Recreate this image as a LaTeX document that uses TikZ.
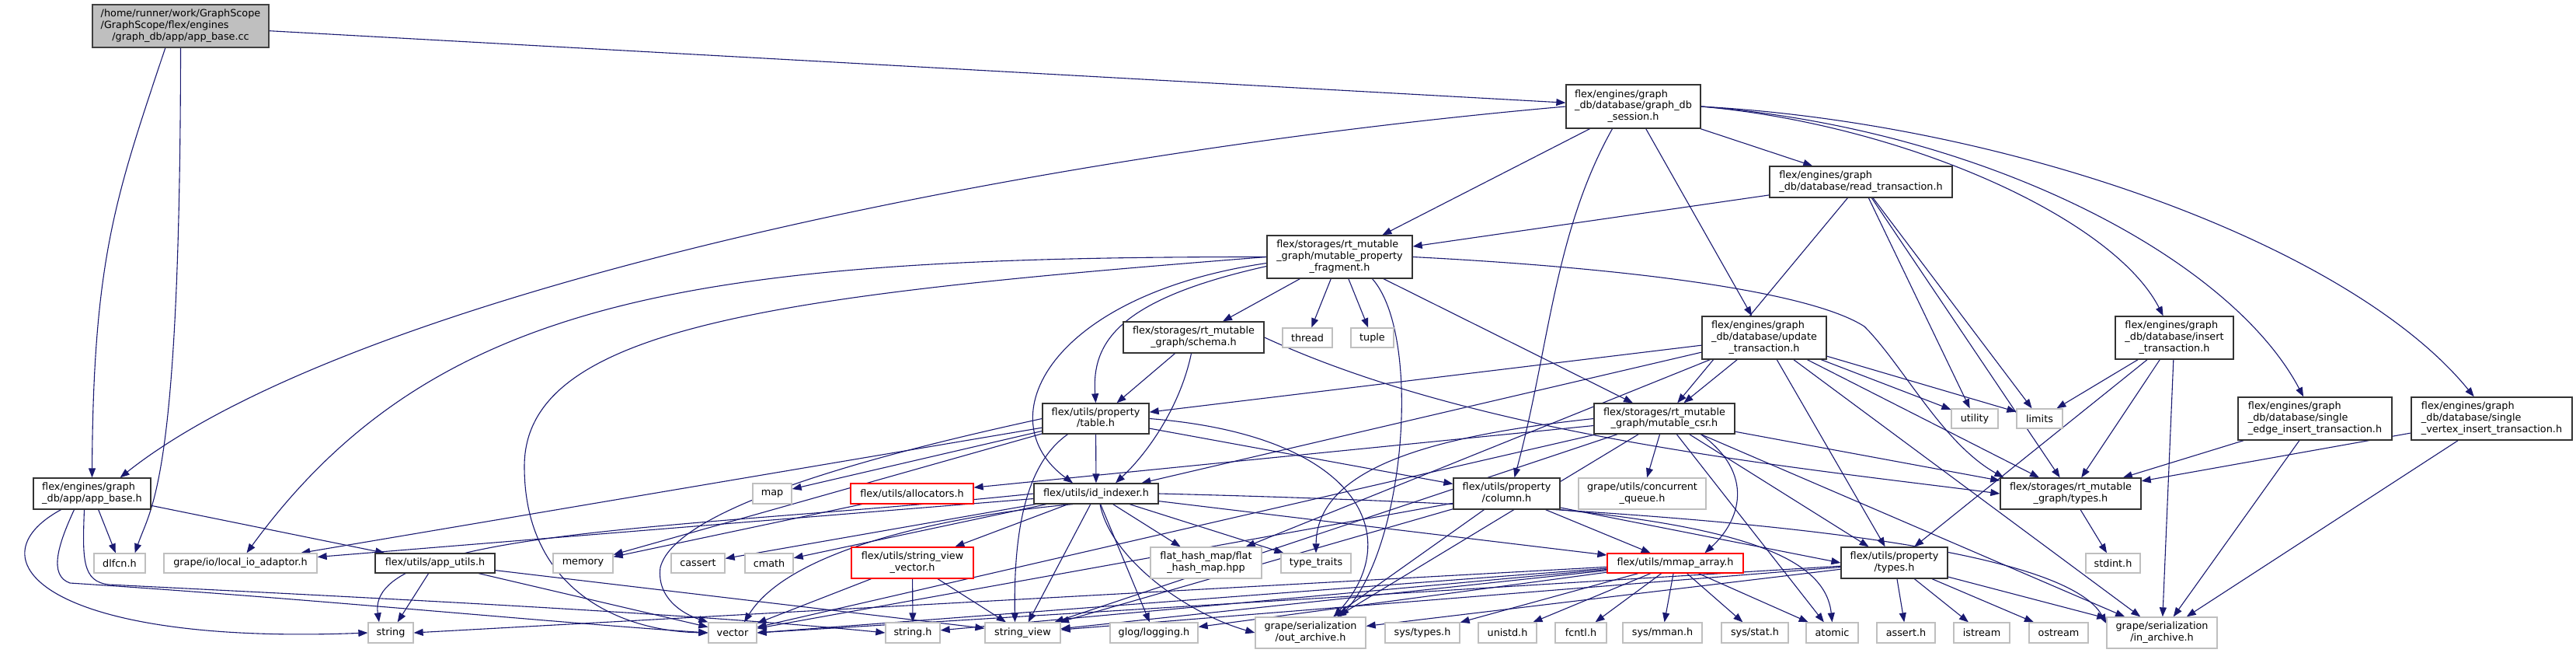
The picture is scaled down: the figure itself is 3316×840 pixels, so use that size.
\documentclass[tikz,border=0pt]{standalone}
\usepackage{fontspec}
\setmainfont{DejaVu Sans}
\usetikzlibrary{arrows.meta}
\definecolor{edgeblue}{HTML}{191970}
\definecolor{sysgray}{HTML}{BFBFBF}
\newcommand{\lline}[1]{\multicolumn{1}{@{}l@{}}{#1}}
\newcommand{\fname}[1]{\begin{tabular}{@{}c@{}}#1\end{tabular}}
\pgfdeclarelayer{edges}
\pgfsetlayers{edges,main}
\tikzset{
  hdr/.style={draw=black!80, fill=white, line width=1.3pt, inner sep=0pt,
    font=\fontsize{12.8}{14.7}\selectfont},
  inc/.style={hdr},
  sysinc/.style={hdr, draw=sysgray},
  cut/.style={hdr, draw=red},
  src/.style={hdr, fill=sysgray, draw=black!75},
  wh/.style 2 args={minimum width=#1pt, minimum height=#2pt},
  dep/.style={draw=edgeblue, line width=1.1pt, -{Triangle[length=12pt,width=9pt]}},
}

\begin{document}
\begin{tikzpicture}[x=1pt,y=-1pt]
  \useasboundingbox (0,0) rectangle (3316,840);
  % rows from the top
  \node[src, wh={227}{55}] (appcc) at (232.5,33.5)
    {\fname{\lline{/home/runner/work/GraphScope}\\\lline{/GraphScope/flex/engines}\\/graph\_db/app/app\_base.cc}};
  \node[inc, wh={173}{56}] (session) at (2102.5,137)
    {\fname{\lline{flex/engines/graph}\\\lline{\_db/database/graph\_db}\\\_session.h}};
  \node[inc, wh={235}{40}] (rtx) at (2395.5,234)
    {\fname{\lline{flex/engines/graph}\\\_db/database/read\_transaction.h}};
  \node[inc, wh={187}{55}] (mpf) at (1724.5,330.5)
    {\fname{\lline{flex/storages/rt\_mutable}\\\lline{\_graph/mutable\_property}\\\_fragment.h}};
  \node[inc, wh={160}{55}] (utx) at (2271,434.5)
    {\fname{\lline{flex/engines/graph}\\\lline{\_db/database/update}\\\_transaction.h}};
  \node[inc, wh={152}{55}] (itx) at (2799,434.5)
    {\fname{\lline{flex/engines/graph}\\\lline{\_db/database/insert}\\\_transaction.h}};
  \node[inc, wh={181}{40}] (schema) at (1536.5,434)
    {\fname{\lline{flex/storages/rt\_mutable}\\\_graph/schema.h}};
  \node[sysinc, wh={64}{25}] (thread) at (1683,434.5) {thread};
  \node[sysinc, wh={55}{25}] (tuple) at (1766.5,434.5) {tuple};
  \node[inc, wh={198}{55}] (setx) at (2980,538.5)
    {\fname{\lline{flex/engines/graph}\\\lline{\_db/database/single}\\\_edge\_insert\_transaction.h}};
  \node[inc, wh={207}{55}] (svtx) at (3207.5,538.5)
    {\fname{\lline{flex/engines/graph}\\\lline{\_db/database/single}\\\_vertex\_insert\_transaction.h}};
  \node[inc, wh={181}{39}] (csr) at (2142.5,538.5)
    {\fname{\lline{flex/storages/rt\_mutable}\\\_graph/mutable\_csr.h}};
  \node[inc, wh={137}{39}] (table) at (1410.5,538.5)
    {\fname{\lline{flex/utils/property}\\/table.h}};
  \node[sysinc, wh={60}{25}] (utility) at (2542,538.5) {utility};
  \node[sysinc, wh={59}{25}] (limits) at (2625.5,538.5) {limits};
  \node[inc, wh={151}{40}] (appbase) at (118.5,635)
    {\fname{\lline{flex/engines/graph}\\\_db/app/app\_base.h}};
  \node[inc, wh={137}{40}] (column) at (1939.5,635)
    {\fname{\lline{flex/utils/property}\\/column.h}};
  \node[sysinc, wh={164}{40}] (concq) at (2114,635)
    {\fname{\lline{grape/utils/concurrent}\\\_queue.h}};
  \node[inc, wh={181}{40}] (rtypes) at (2665.5,635)
    {\fname{\lline{flex/storages/rt\_mutable}\\\_graph/types.h}};
  \node[sysinc, wh={50}{26}] (map) at (994,635) {map};
  \node[cut, wh={158}{26}] (alloc) at (1174,635) {flex/utils/allocators.h};
  \node[inc, wh={160}{26}] (idx) at (1411,635) {flex/utils/id\_indexer.h};
  \node[sysinc, wh={66}{25}] (dlfcn) at (154,724.5) {dlfcn.h};
  \node[sysinc, wh={197}{25}] (lio) at (309.5,724.5) {grape/io/local\_io\_adaptor.h};
  \node[inc, wh={154}{25}] (apputils) at (560,724.5) {flex/utils/app\_utils.h};
  \node[sysinc, wh={77}{25}] (memory) at (750.5,724.5) {memory};
  \node[sysinc, wh={69}{25}] (cassert) at (898.5,724.5) {cassert};
  \node[sysinc, wh={62}{25}] (cmath) at (990,724.5) {cmath};
  \node[cut, wh={157}{40}] (svv) at (1174.5,724)
    {\fname{\lline{flex/utils/string\_view}\\\_vector.h}};
  \node[sysinc, wh={143}{40}] (fhm) at (1552.5,724)
    {\fname{\lline{flat\_hash\_map/flat}\\\_hash\_map.hpp}};
  \node[sysinc, wh={90}{25}] (typetraits) at (1694,724.5) {type\_traits};
  \node[cut, wh={175}{25}] (mmap) at (2156.5,724.5) {flex/utils/mmap\_array.h};
  \node[inc, wh={137}{40}] (ptypes) at (2438.5,724)
    {\fname{\lline{flex/utils/property}\\/types.h}};
  \node[sysinc, wh={70}{25}] (stdint) at (2720,724.5) {stdint.h};
  \node[sysinc, wh={58}{26}] (string) at (503,814) {string};
  \node[sysinc, wh={62}{26}] (vector) at (943,814) {vector};
  \node[sysinc, wh={70}{26}] (stringh) at (1175,814) {string.h};
  \node[sysinc, wh={97}{26}] (strview) at (1316.5,814) {string\_view};
  \node[sysinc, wh={113}{26}] (glog) at (1485.5,814) {glog/logging.h};
  \node[sysinc, wh={142}{40}] (outarch) at (1687,814)
    {\fname{\lline{grape/serialization}\\/out\_archive.h}};
  \node[sysinc, wh={96}{26}] (systypes) at (1831,814) {sys/types.h};
  \node[sysinc, wh={75}{26}] (unistd) at (1940.5,814) {unistd.h};
  \node[sysinc, wh={66}{26}] (fcntl) at (2035,814) {fcntl.h};
  \node[sysinc, wh={102}{26}] (sysmman) at (2140,814) {sys/mman.h};
  \node[sysinc, wh={86}{26}] (sysstat) at (2259,814) {sys/stat.h};
  \node[sysinc, wh={67}{26}] (atomic) at (2358.5,814) {atomic};
  \node[sysinc, wh={75}{26}] (asserth) at (2453.5,814) {assert.h};
  \node[sysinc, wh={72}{26}] (istream) at (2551,814) {istream};
  \node[sysinc, wh={76}{26}] (ostream) at (2650,814) {ostream};
  \node[sysinc, wh={142}{40}] (inarch) at (2783,814)
    {\fname{\lline{grape/serialization}\\/in\_archive.h}};

  \begin{pgfonlayer}{edges}
  % app_base.cc
  \draw[dep] (appcc) -- (session);
  \draw[dep] (appcc.235) .. controls (150,250) and (120,330) .. (appbase.north);
  \draw[dep] (appcc.south) .. controls (232,620) and (195,650) .. ([xshift=-14pt]dlfcn.north east);
  % graph_db_session.h
  \draw[dep] (session.west) .. controls (1300,200) and (450,380) .. ([xshift=-40pt]appbase.north east);
  \draw[dep] ([xshift=-27pt]session.south) .. controls (2000,300) and (1994,450) .. ([xshift=10pt]column.north);
  \draw[dep] (session.east) .. controls (2450,160) and (2720,280) .. (itx);
  \draw[dep] (session.east) .. controls (2550,165) and (2870,330) .. (setx);
  \draw[dep] (session.east) .. controls (2600,160) and (3030,320) .. (svtx);
  \foreach \dst in {mpf,utx,rtx} \draw[dep] (session) -- (\dst);
  % read_transaction.h
  \foreach \dst in {mpf,csr,utility,limits,rtypes} \draw[dep] (rtx) -- (\dst);
  % mutable_property_fragment.h
  \foreach \dst in {schema,csr,thread,tuple} \draw[dep] (mpf) -- (\dst);
  \draw[dep] ([yshift=-12pt]mpf.west) .. controls (1440,385) and (1405,440) .. (table.north);
  \draw[dep] ([yshift=-8pt]mpf.west) .. controls (1350,380) and (1270,540) .. ([xshift=-30pt]idx.north);
  \draw[dep] (mpf.west) .. controls (900,330) and (560,380) .. ([xshift=8pt]lio.north);
  \draw[dep] (mpf.west) .. controls (1000,380) and (675,420) .. (675,600)
    .. controls (675,760) and (800,812) .. (vector.west);
  \draw[dep] (mpf.east) .. controls (2100,345) and (2330,375) .. (2400,420)
    .. controls (2450,470) and (2500,570) .. ([xshift=5pt]rtypes.north west);
  \draw[dep] ([xshift=42pt]mpf.south) .. controls (1830,430) and (1810,700) .. ([xshift=38pt]outarch.north);
  % update / insert transactions
  \foreach \dst in {table,idx,fhm,csr,ptypes,rtypes,inarch,utility,limits} \draw[dep] (utx) -- (\dst);
  \foreach \dst in {limits,rtypes,ptypes,inarch} \draw[dep] (itx) -- (\dst);
  \foreach \s in {setx,svtx} \foreach \dst in {rtypes,inarch} \draw[dep] (\s) -- (\dst);
  % schema.h, table.h
  \draw[dep] ([xshift=-24pt]schema.south) -- ([xshift=27pt]table.north);
  \draw[dep] ([xshift=-3pt]schema.south) .. controls (1520,520) and (1480,580) .. ([xshift=25pt]idx.north);
  \draw[dep] (schema.east) .. controls (1900,560) and (2300,600) .. (rtypes.west);
  \foreach \dst in {map,memory,lio,idx,column} \draw[dep] (table) -- (\dst);
  \draw[dep] (table.west) .. controls (1150,580) and (870,650) .. (850,730)
    .. controls (845,770) and (880,790) .. (vector.north west);
  \draw[dep] ([xshift=-36pt]table.south) .. controls (1315,600) and (1305,700) .. ([xshift=-10pt]strview.north);
  \draw[dep] (table.east) .. controls (1750,560) and (1810,690) .. ([xshift=30pt]outarch.north);
  % id_indexer.h
  \foreach \dst in {cassert,cmath,lio,svv,strview,glog,fhm,typetraits,mmap} \draw[dep] (idx) -- (\dst);
  \draw[dep] (idx.west) .. controls (900,680) and (470,680) .. ([xshift=-15pt]string.north);
  \draw[dep] ([xshift=-30pt]idx.south) .. controls (1250,660) and (1020,700) .. ([xshift=15pt]vector.north);
  \draw[dep] ([xshift=5pt]idx.south) .. controls (1430,720) and (1530,790) .. (outarch.west);
  \draw[dep] (idx.east) .. controls (2100,650) and (2650,690) .. ([yshift=12pt]inarch.west);
  % mutable_csr.h
  \foreach \dst in {alloc,vector,outarch,concq,strview,atomic,ptypes,inarch,rtypes} \draw[dep] (csr) -- (\dst);
  \draw[dep] (csr.west) .. controls (1850,560) and (1695,600) .. (typetraits.north);
  \draw[dep] ([xshift=47pt]csr.south) .. controls (2260,610) and (2240,670) .. ([xshift=38pt]mmap.north);
  % column.h
  \foreach \dst in {strview,vector,outarch,mmap} \draw[dep] (column) -- (\dst);
  \draw[dep] ([yshift=-18pt]column.east) -- (ptypes.west);
  \draw[dep] (column.south east) .. controls (2250,680) and (2350,720) .. (atomic.north);
  % mmap_array.h
  \foreach \dst in {systypes,unistd,fcntl,sysmman,sysstat,atomic,stringh,strview,glog} \draw[dep] (mmap) -- (\dst);
  \draw[dep] (mmap) -- (vector.east);
  \draw[dep] (mmap) -- (string.east);
  % property/types.h
  \foreach \dst in {asserth,istream,ostream,inarch,outarch,strview} \draw[dep] (ptypes) -- (\dst);
  \draw[dep] (ptypes) -- (vector.east);
  % the rest
  \foreach \dst in {vector,stringh,strview} \draw[dep] (svv) -- (\dst);
  \draw[dep] (alloc) -- (memory);
  \draw[dep] (rtypes) -- (stdint);
  \draw[dep] (appbase) -- (dlfcn);
  \draw[dep] (appbase) -- (apputils);
  \draw[dep] ([xshift=-40pt]appbase.south) .. controls (-40,720) and (60,830) .. (string.west);
  \draw[dep] ([xshift=-23pt]appbase.south) .. controls (75,700) and (62,740) .. (90,750)
    .. controls (400,770) and (700,800) .. (vector.west);
  \draw[dep] ([xshift=-10pt]appbase.south) .. controls (106,720) and (106,748) .. (140,752)
    .. controls (500,770) and (900,790) .. (stringh.west);
  \foreach \dst in {string,vector,strview} \draw[dep] (apputils) -- (\dst);
  \end{pgfonlayer}
\end{tikzpicture}
\end{document}
